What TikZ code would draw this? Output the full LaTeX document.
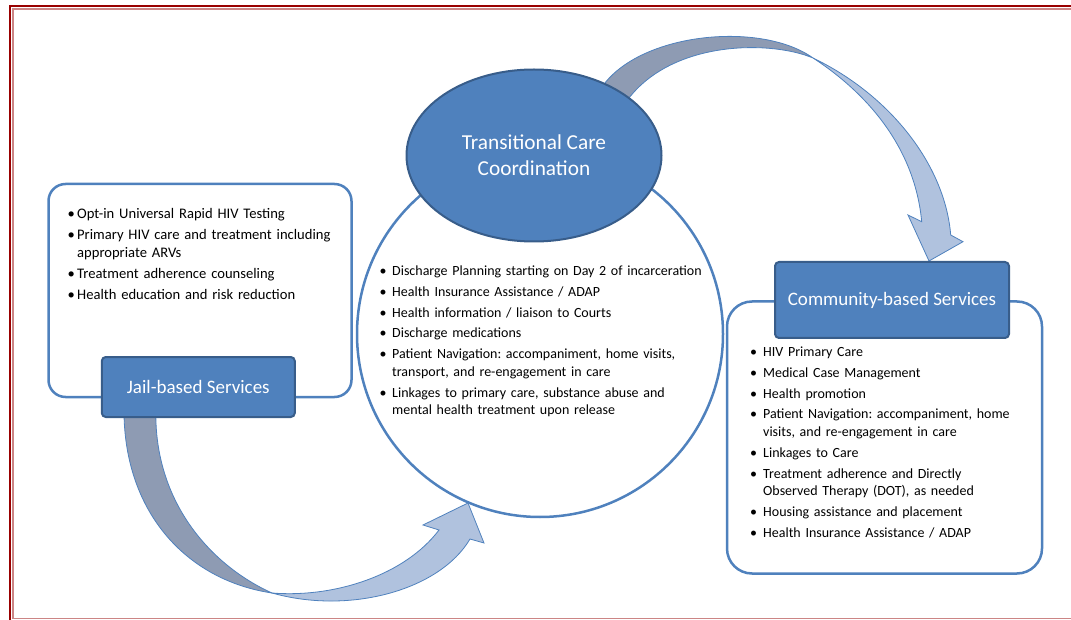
\documentclass[tikz,border=0pt]{standalone}
\usepackage{fontspec}
\setmainfont{Carlito}
\usetikzlibrary{shapes.geometric}
\definecolor{boxblue}{HTML}{4F81BD}
\definecolor{edgeblue}{HTML}{385D8A}
\definecolor{arrowdark}{HTML}{8E9BB3}
\definecolor{arrowlight}{HTML}{B0C2DE}
\definecolor{framered}{HTML}{990000}
\definecolor{framepink}{HTML}{CC8585}
\newlength\bind
\newcommand{\bpt}{\par\hangindent=\bind\hangafter=1\noindent\hbox to\bind{\textbullet\hfil}}
\newcommand{\brk}{\hfil\break}
\frenchspacing
\begin{document}
\begin{tikzpicture}[x=1pt,y=-1pt,
    panel/.style={draw=boxblue,line width=2.5pt,fill=white,rounded corners=17pt,inner sep=0pt},
    title/.style={draw=edgeblue,line width=2pt,fill=boxblue,text=white,rounded corners=4pt,
      inner sep=0pt,align=center,font=\fontsize{19}{24}\selectfont},
    items/.style n args={2}{anchor=north west,inner sep=0pt,text width=#1,align=left,
      font=\fontsize{14}{17.7}\selectfont,
      execute at begin node={\setlength\parskip{3pt}\setlength\bind{#2}}},
    ribbon/.style={draw=boxblue,line width=0.8pt}]
  \useasboundingbox (0,0) rectangle (1071,620);
  \draw[framered,line width=2.2pt] (10.3,620) -- (10.3,6.3) -- (1071,6.3);
  \draw[framepink,line width=1.6pt] (1071,9) -- (12.8,9) -- (12.8,618.5) -- (1071,618.5);

  \node[panel,minimum width=303pt,minimum height=213pt] (jail) at (200,290.5) {};
  \node[panel,rounded corners=25pt,minimum width=315pt,minimum height=272pt] (comm) at (884.5,437.5) {};
  \node[circle,draw=boxblue,line width=2.5pt,minimum size=366pt,inner sep=0pt] (hub) at (540,334) {};

  \filldraw[ribbon,fill=arrowdark] (600,90) .. controls (635,33) and (760,20) .. (813,58)
    .. controls (770,40) and (670,40) .. (626,102) -- cycle;
  \filldraw[ribbon,fill=arrowlight] (813,58) .. controls (890,95) and (945,165) .. (950.7,235)
    -- (963,241.7) -- (929,261) -- (908,215) -- (921.7,221.7)
    .. controls (915,150) and (870,95) .. (813,58) -- cycle;
  \filldraw[ribbon,fill=arrowdark] (124,405) .. controls (122,510) and (185,580) .. (272,593)
    .. controls (210,565) and (152,500) .. (156,405) -- cycle;
  \filldraw[ribbon,fill=arrowlight] (272,593) .. controls (350,615) and (440,590) .. (470,539)
    -- (484,543) -- (468,503) -- (423,525) -- (439,530)
    .. controls (405,575) and (335,598) .. (272,593) -- cycle;

  \node[ellipse,draw=edgeblue,line width=2pt,fill=boxblue,minimum width=255pt,minimum height=172pt,
    inner sep=0pt,text=white,align=center,font=\fontsize{21.3}{26}\selectfont] (tcc) at (534,155.5)
    {Transitional Care\\Coordination};
  \node[title,minimum width=193pt,minimum height=60pt] (jailt) at (198.3,387) {Jail-based Services};
  \node[title,minimum width=234pt,minimum height=76pt] (commt) at (892,300) {Community-based Services};

  \node[items={280pt}{9.5pt},font=\fontsize{14.6}{18}\selectfont] (jaillist) at (67.5,197.5) {%
    \bpt Opt-in Universal Rapid HIV Testing
    \bpt Primary HIV care and treatment including\brk appropriate ARVs
    \bpt Treatment adherence counseling
    \bpt Health education and risk reduction\par};
  \node[items={340pt}{12.5pt}] (hublist) at (379.5,255) {%
    \bpt Discharge Planning starting on Day 2 of incarceration
    \bpt Health Insurance Assistance / ADAP
    \bpt Health information / liaison to Courts
    \bpt Discharge medications
    \bpt Patient Navigation: accompaniment, home visits,\brk transport, and re-engagement in care
    \bpt Linkages to primary care, substance abuse and\brk mental health treatment upon release\par};
  \node[items={280pt}{13pt}] (commlist) at (750,336) {%
    \bpt HIV Primary Care
    \bpt Medical Case Management
    \bpt Health promotion
    \bpt Patient Navigation: accompaniment, home\brk visits, and re-engagement in care
    \bpt Linkages to Care
    \bpt Treatment adherence and Directly\brk Observed Therapy (DOT), as needed
    \bpt Housing assistance and placement
    \bpt Health Insurance Assistance / ADAP\par};
\end{tikzpicture}
\end{document}
